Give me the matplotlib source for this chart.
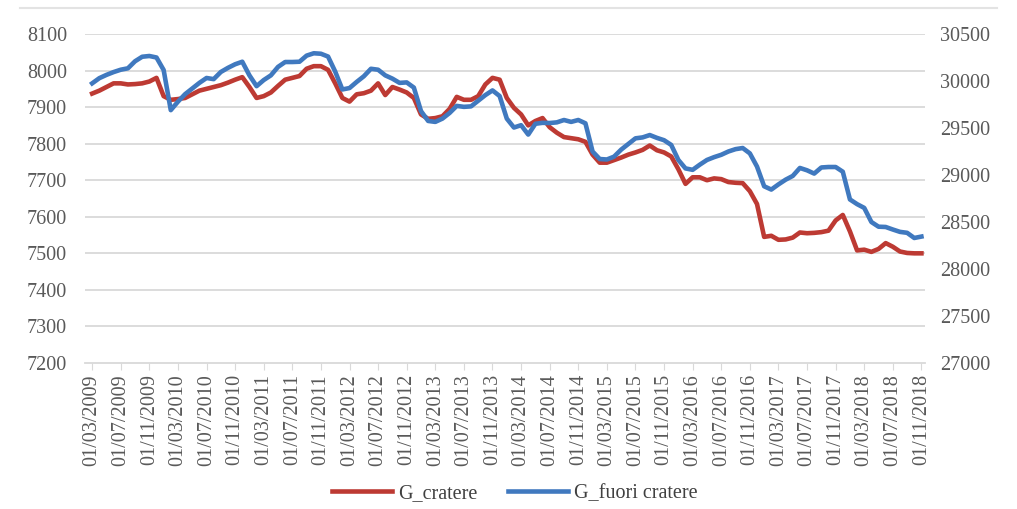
import numpy as np
import pandas as pd
import matplotlib
matplotlib.use("Agg")
import matplotlib.pyplot as plt
from matplotlib.lines import Line2D

# monthly series, 01/03/2009 .. 01/11/2018
months = pd.date_range("2009-03-01", "2018-11-01", freq="MS")

# G_cratere (left axis)
g_cratere = [
    7937, 7945, 7955, 7965, 7965, 7962, 7963, 7965, 7970, 7980,
    7930, 7920, 7922, 7925, 7935, 7945, 7950, 7955, 7960, 7967,
    7975, 7982, 7955, 7925, 7930, 7940, 7958, 7975, 7980, 7985,
    8005, 8012, 8012, 8002, 7965, 7925, 7915, 7935, 7938, 7945,
    7965, 7933, 7955, 7948, 7940, 7925, 7880, 7868, 7870, 7875,
    7895, 7928, 7920, 7920, 7930, 7962, 7980, 7975, 7925, 7898,
    7880, 7850, 7862, 7870, 7845, 7830, 7818, 7815, 7812, 7805,
    7770, 7748, 7748, 7755, 7762, 7770, 7776, 7783, 7795, 7782,
    7776, 7765, 7730, 7690, 7708, 7708, 7700, 7705, 7703, 7695,
    7693, 7692, 7670, 7635, 7545, 7548, 7537, 7538, 7543, 7557,
    7555, 7556, 7558, 7562, 7590, 7605, 7560, 7508, 7510, 7504,
    7512, 7528, 7518, 7505, 7501, 7500, 7500,
]

# G_fuori cratere (right axis)
g_fuori = [
    29975, 30030, 30065, 30095, 30120, 30135, 30210, 30258, 30266, 30250,
    30117, 29690, 29780, 29860, 29920, 29980, 30032, 30020, 30096, 30140,
    30178, 30205, 30060, 29945, 30010, 30060, 30150, 30202, 30202, 30205,
    30270, 30295, 30290, 30260, 30100, 29910, 29925, 29990, 30050, 30130,
    30120, 30060, 30025, 29980, 29985, 29930, 29680, 29575, 29565, 29600,
    29660, 29735, 29725, 29730, 29790, 29850, 29900, 29840, 29600, 29505,
    29530, 29430, 29545, 29555, 29553, 29560, 29585, 29565, 29585, 29550,
    29250, 29170, 29165, 29195, 29270, 29330, 29390, 29400, 29425, 29395,
    29370, 29320, 29160, 29070, 29055, 29110, 29160, 29190, 29215, 29250,
    29275, 29287, 29230, 29090, 28880, 28845, 28900, 28950, 28990, 29075,
    29050, 29015, 29080, 29085, 29085, 29035, 28740, 28690, 28650, 28500,
    28450, 28447, 28420, 28395, 28385, 28330, 28345,
]

left_ticks = np.arange(7200, 8101, 100)
right_ticks = np.arange(27000, 30501, 500)
tick_step = 4  # a label every 4 months

red = "#bd3a33"
blue = "#4079bf"
grid_col = "#d9d9d9"
txt_col = "#595959"

plt.rcParams["font.family"] = ["Liberation Serif", "DejaVu Serif"]

fig = plt.figure(figsize=(10.17, 5.09), dpi=100)
ax = fig.add_axes([85 / 1017, 1 - 363 / 509, 840 / 1017, 329 / 509])
ax2 = ax.twinx()

x = np.arange(len(months))
ax.plot(x, g_cratere, color=red, lw=3.3, solid_joinstyle="round", zorder=3)
ax2.plot(x, g_fuori, color=blue, lw=3.3, solid_joinstyle="round", zorder=3)

ax.set_xlim(-1, len(months) - 0.5)
ax.set_ylim(left_ticks[0], left_ticks[-1])
ax2.set_ylim(right_ticks[0], right_ticks[-1])
ax.set_yticks(left_ticks)
ax2.set_yticks(right_ticks)

# horizontal grid from the left axis
for v in left_ticks[1:]:
    ax.axhline(v, color=grid_col, lw=1.3, zorder=1)

ax.set_xticks(x[::tick_step])
ax.set_xticklabels([d.strftime("%d/%m/%Y") for d in months[::tick_step]],
                   rotation=90, fontsize=14.5, color=txt_col)
ax.tick_params(axis="x", length=5, color=grid_col, pad=3)
ax.tick_params(axis="y", length=0, pad=13, labelsize=14.5, labelcolor=txt_col)
ax2.tick_params(axis="y", length=0, pad=11, labelsize=14.5, labelcolor=txt_col)

for a in (ax, ax2):
    for s in ("top", "left", "right"):
        a.spines[s].set_visible(False)
    a.spines["bottom"].set_color(grid_col)
    a.spines["bottom"].set_linewidth(1.3)
ax2.spines["bottom"].set_visible(False)

# faint frame line at the top of the original picture
fig.add_artist(Line2D([0.02, 0.98], [1 - 8 / 509, 1 - 8 / 509],
                      color="#e3e3e3", lw=1.5))

handles = [Line2D([], [], color=red, lw=3.3), Line2D([], [], color=blue, lw=3.3)]
fig.legend(handles, ["G_cratere", "G_fuori cratere"], loc="center",
           bbox_to_anchor=(0.506, 0.03), ncol=2, frameon=False,
           fontsize=14.5, handlelength=3.0, handletextpad=0.3, columnspacing=1.5,
           labelcolor="#404040")

fig.savefig("out.png", dpi=100, facecolor="white")
